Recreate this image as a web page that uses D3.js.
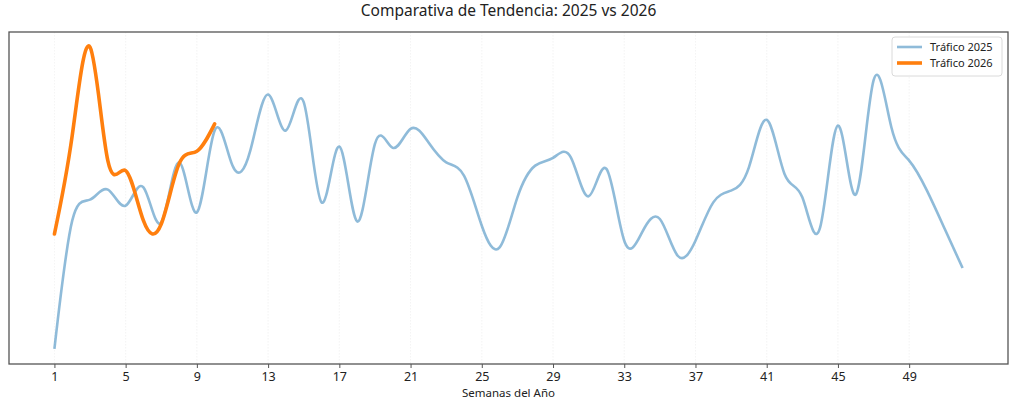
<!DOCTYPE html>
<html>
<head>
<meta charset="utf-8">
<script src="https://cdn.jsdelivr.net/npm/d3@7"></script>
<style>
  body { margin: 0; background: #fff; }
  svg { display: block; font-family: "Noto Sans", "Open Sans", sans-serif; }
</style>
</head>
<body>
<div id="chart"></div>
<script>
// weekly traffic
let weeks2025 = d3.range(1, 53);
let traffic2025 = [
    170, 1450, 1660, 1760, 1600, 1783, 1433, 2033, 1533, 2350,
    2000, 2150, 2710, 2350, 2633, 1633, 2190, 1443, 2217, 2177,
    2367, 2233, 2033, 1900, 1400, 1183, 1683, 2000, 2077, 2083,
    1693, 1967, 1250, 1333, 1467, 1100, 1250, 1633, 1750, 1983,
    2457, 1917, 1683, 1383, 2400, 1710, 2850, 2383, 2050, 1750,
    1367, 977
];
let weeks2026 = d3.range(1, 11);
let traffic2026 = [1317, 2300, 3183, 2050, 1950, 1450, 1417, 2017, 2143, 2417];
let weekTicks = [1, 5, 9, 13, 17, 21, 25, 29, 33, 37, 41, 45, 49];

let totalWidth = 1024,
    totalHeight = 400,
    mTop = 32,
    mBottom = 36,
    mRight = 16,
    mLeft = 9;

let width = totalWidth - mLeft - mRight,
    height = totalHeight - mTop - mBottom;

let svg = d3.select("#chart").append("svg")
    .attr("width", totalWidth)
    .attr("height", totalHeight);

let g = svg.append("g")
    .attr("transform", "translate(" + mLeft + "," + mTop + ")");

// matplotlib style 5% padding on both axes
let xExt = d3.extent(weeks2025),
    xPad = (xExt[1] - xExt[0]) * 0.05;
let xScale = d3.scaleLinear()
    .domain([xExt[0] - xPad, xExt[1] + xPad])
    .range([0, width]);

let yExt = d3.extent(traffic2025.concat(traffic2026)),
    yPad = (yExt[1] - yExt[0]) * 0.05;
let yScale = d3.scaleLinear()
    .domain([yExt[0] - yPad, yExt[1] + yPad])
    .range([height, 0]);

// vertical grid, very faint
g.append("g")
    .selectAll("line")
    .data(weekTicks)
    .enter().append("line")
    .attr("x1", d => xScale(d))
    .attr("x2", d => xScale(d))
    .attr("y1", 0)
    .attr("y2", height)
    .attr("stroke", "#e4e4e4")
    .attr("stroke-width", 0.8)
    .attr("stroke-dasharray", "1.5,1.5")
    .attr("opacity", 0.5);

let line = d3.line()
    .curve(d3.curveNatural)
    .x(d => xScale(d[0]))
    .y(d => yScale(d[1]));

g.append("path")
    .datum(d3.zip(weeks2025, traffic2025))
    .attr("fill", "none")
    .attr("stroke", "#1f77b4")
    .attr("stroke-opacity", 0.5)
    .attr("stroke-width", 2.6)
    .attr("stroke-linejoin", "round")
    .attr("d", line);

g.append("path")
    .datum(d3.zip(weeks2026, traffic2026))
    .attr("fill", "none")
    .attr("stroke", "#ff7f0e")
    .attr("stroke-width", 3.6)
    .attr("stroke-linejoin", "round")
    .attr("stroke-linecap", "round")
    .attr("d", line);

// frame
g.append("rect")
    .attr("width", width)
    .attr("height", height)
    .attr("fill", "none")
    .attr("stroke", "#555")
    .attr("stroke-width", 1.3);

let xAxis = d3.axisBottom(xScale)
    .tickValues(weekTicks)
    .tickFormat(d3.format("d"))
    .tickSize(4)
    .tickPadding(4);

let gx = g.append("g")
    .attr("transform", "translate(0," + height + ")")
    .call(xAxis);
gx.select(".domain").remove();
gx.selectAll(".tick line").attr("stroke", "#555").attr("stroke-width", 1);
gx.selectAll(".tick text")
    .attr("fill", "#222")
    .style("font-size", "12.5px")
    .style("font-family", "'Noto Sans', 'Open Sans', sans-serif");

// title and axis label
svg.append("text")
    .attr("x", mLeft + width / 2)
    .attr("y", 16)
    .attr("text-anchor", "middle")
    .attr("fill", "#222")
    .style("font-size", "15.5px")
    .text("Comparativa de Tendencia: 2025 vs 2026");

svg.append("text")
    .attr("x", mLeft + width / 2)
    .attr("y", 397)
    .attr("text-anchor", "middle")
    .attr("fill", "#222")
    .style("font-size", "11.5px")
    .text("Semanas del Año");

// legend
let legend = g.append("g")
    .attr("transform", "translate(" + (width - 116) + ",5)");

legend.append("rect")
    .attr("width", 110)
    .attr("height", 39)
    .attr("rx", 3)
    .attr("fill", "#fff")
    .attr("fill-opacity", 0.85)
    .attr("stroke", "#d0d0d0")
    .attr("stroke-width", 0.8);

let legendItems = [
    { label: "Tráfico 2025", color: "#1f77b4", opacity: 0.5, w: 2.6 },
    { label: "Tráfico 2026", color: "#ff7f0e", opacity: 1, w: 3.6 }
];

legendItems.forEach(function(item, i) {
    let row = legend.append("g")
        .attr("transform", "translate(0," + (10 + i * 16) + ")");
    row.append("line")
        .attr("x1", 5)
        .attr("x2", 30)
        .attr("stroke", item.color)
        .attr("stroke-opacity", item.opacity)
        .attr("stroke-width", item.w);
    row.append("text")
        .attr("x", 38)
        .attr("y", 4)
        .attr("fill", "#222")
        .style("font-size", "11px")
        .text(item.label);
});
</script>
</body>
</html>
